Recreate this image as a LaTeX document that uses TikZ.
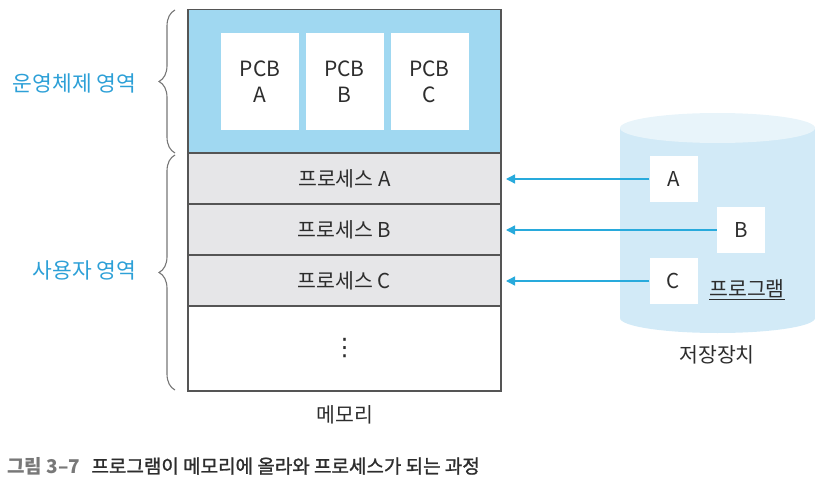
\documentclass[tikz,border=0pt]{standalone}
\usepackage{fontspec}
\setmainfont{Noto Sans CJK KR}
\newfontfamily\dejavu{DejaVu Sans}
\newfontfamily\capmed[FakeBold=1.3]{Noto Sans CJK KR}
\usetikzlibrary{arrows.meta,decorations.pathreplacing}
\definecolor{txt}{RGB}{45,45,45}
\definecolor{edge}{RGB}{85,85,85}
\definecolor{osblue}{RGB}{160,216,241}
\definecolor{procgray}{RGB}{230,230,232}
\definecolor{lblblue}{RGB}{45,160,215}
\definecolor{arrblue}{RGB}{40,170,220}
\definecolor{cylbody}{RGB}{210,234,247}
\definecolor{cyltop}{RGB}{232,244,250}
\definecolor{capgray}{RGB}{120,120,120}
\begin{document}
\begin{tikzpicture}[x=1pt,y=-1pt,
  mem/.style={draw=edge, line width=1.4pt, inner sep=0pt, outer sep=0pt, anchor=north west, minimum width=313pt, text=txt, font=\fontsize{20.5}{24}\selectfont},
  pcb/.style={fill=white, inner sep=0pt, minimum width=78pt, minimum height=97pt, align=center, text=txt, font=\fontsize{21}{26}\selectfont},
  prog/.style={fill=white, inner sep=0pt, minimum width=48pt, minimum height=46pt, text=txt, font=\fontsize{20.5}{24}\selectfont},
  region/.style={anchor=east, text=lblblue, font=\fontsize{21.5}{24}\selectfont},
  plain/.style={text=txt, font=\fontsize{20.5}{24}\selectfont},
  brc/.style={draw=edge!80, line width=1.1pt, decorate, decoration={brace, amplitude=16pt}},
  load/.style={draw=arrblue, line width=1.4pt, -{Triangle[length=9pt,width=9pt]}, shorten >=5pt}
]
\useasboundingbox (0,0) rectangle (827,492);

% memory
\node[mem, fill=osblue, minimum height=143.5pt] (os) at (188,9.5) {};
\node[mem, fill=procgray, minimum height=51pt] (pa) at (188,153) {프로세스 A};
\node[mem, fill=procgray, minimum height=51pt] (pb) at (188,204) {프로세스 B};
\node[mem, fill=procgray, minimum height=51pt] (pc) at (188,255) {프로세스 C};
\node[mem, fill=white, minimum height=85pt] (free) at (188,306) {};
\node[text=txt, font=\dejavu\fontsize{24}{24}\selectfont] (dots) at (free.center) {⋮};

\node[pcb] (pcba) at (260,81.5) {PCB\\A};
\node[pcb] (pcbb) at (344.5,81.5) {PCB\\B};
\node[pcb] (pcbc) at (429.5,81.5) {PCB\\C};

% braces
\coordinate (b1s) at (175,153);
\coordinate (b1e) at (175,10);
\coordinate (b2s) at (175,390);
\coordinate (b2e) at (175,155);
\draw[brc] (b1s) -- (b1e);
\draw[brc] (b2s) -- (b2e);
\node[region] (oslbl) at (140,83) {운영체제 영역};
\node[region] (userlbl) at (140,270) {사용자 영역};

\node[plain] (memlbl) at (345,415) {메모리};

% storage cylinder
\fill[cylbody] (620,128) rectangle (815,318);
\fill[cylbody] (717.5,318) ellipse [x radius=97.5, y radius=15];
\fill[cyltop] (717.5,128) ellipse [x radius=97.5, y radius=15];

\node[prog] (ga) at (673.5,179) {A};
\node[prog] (gb) at (741,230) {B};
\node[prog] (gc) at (673.5,281) {C};
\node[plain] (proglbl) at (747,290) {\underline{프로그램}};
\node[plain] (storlbl) at (717,355) {저장장치};

\draw[load] (ga.west) -- (ga.west -| pa.east);
\draw[load] (gb.west) -- (gb.west -| pb.east);
\draw[load] (gc.west) -- (gc.west -| pc.east);

% caption
\node[anchor=west, inner sep=0pt, font=\fontsize{19}{22}\selectfont] (cap) at (7,466) {\textcolor{capgray}{\bfseries 그림 3–7}\hspace{0.6em}\textcolor{txt}{\capmed 프로그램이 메모리에 올라와 프로세스가 되는 과정}};
\end{tikzpicture}
\end{document}
